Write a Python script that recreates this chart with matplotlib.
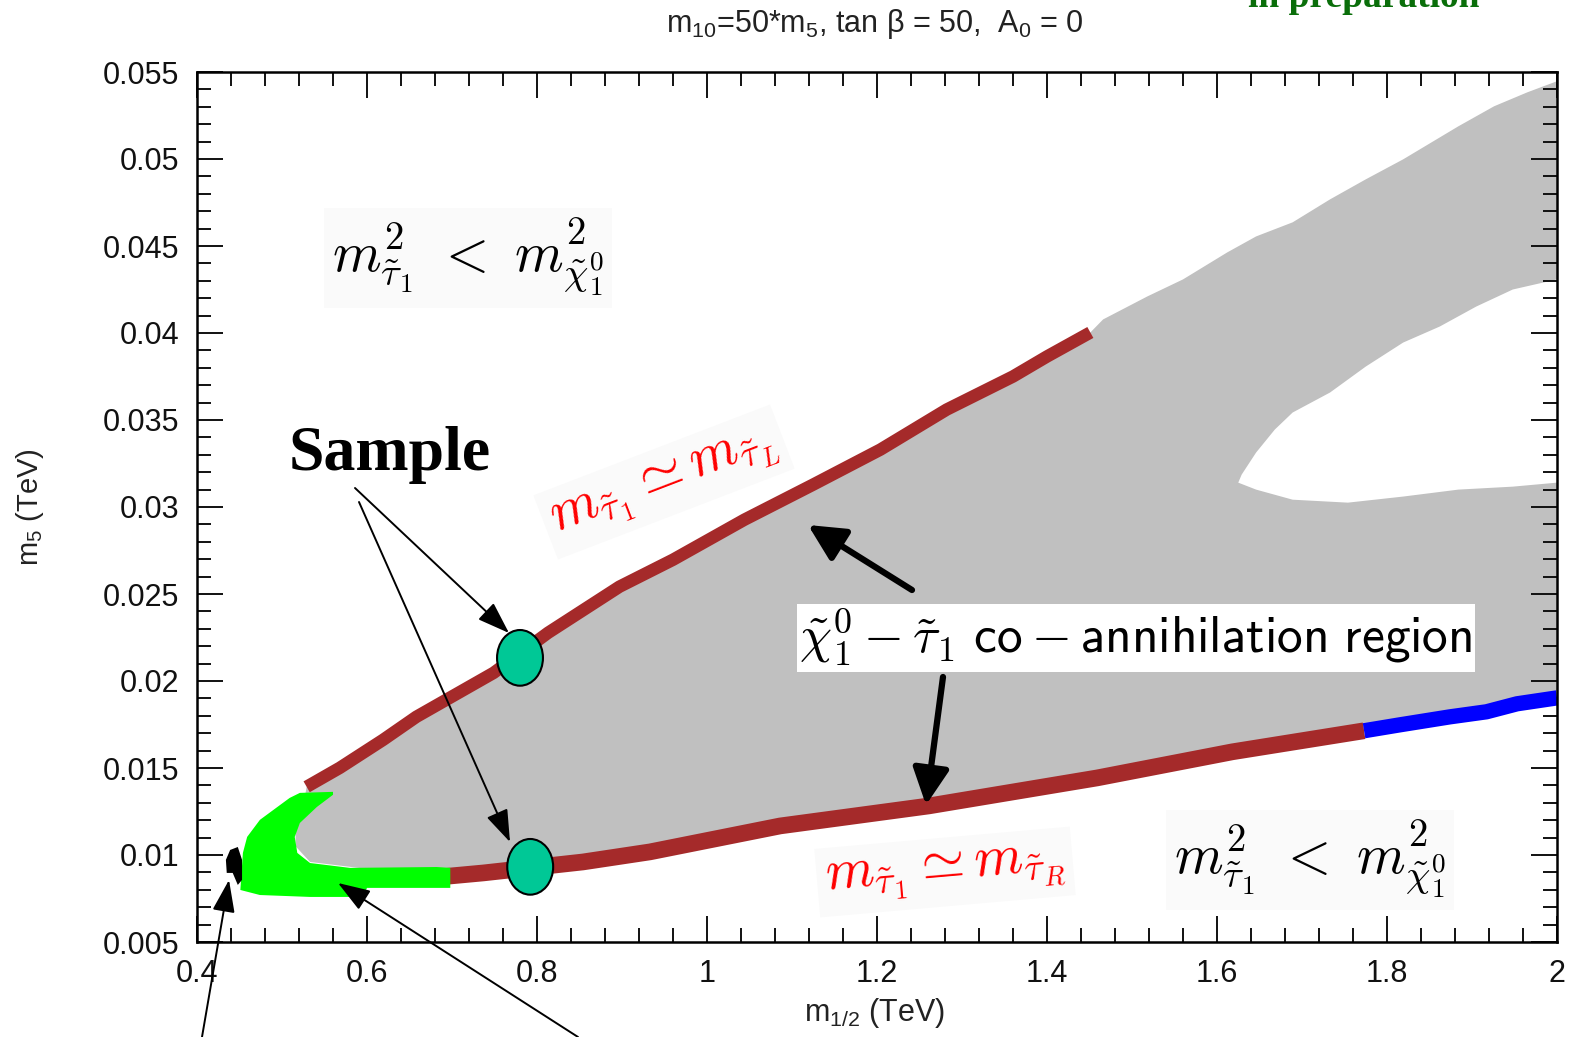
import numpy as np
import matplotlib.pyplot as plt
from matplotlib.patches import Ellipse, FancyArrowPatch
from matplotlib.ticker import MultipleLocator, FuncFormatter

# Data (m_1/2, m_5 in TeV)
# m_stau1 ~ m_stauL boundary (dark red, upper edge)
stauL_m12 = [0.529, 0.568, 0.619, 0.658, 0.749, 0.813, 0.897, 0.960, 1.044,
             1.125, 1.204, 1.282, 1.360, 1.400, 1.451]
stauL_m5 = [0.01392, 0.01501, 0.01662, 0.01794, 0.02047, 0.02277, 0.02542,
            0.02697, 0.02927, 0.03129, 0.03330, 0.03560, 0.03750, 0.03865,
            0.04003]

# upper edge of the allowed (grey) band beyond the red line
top_m12 = [1.466, 1.518, 1.560, 1.612, 1.646, 1.689, 1.733, 1.775, 1.819,
           1.884, 1.926, 1.965, 2.000]
top_m5 = [0.04078, 0.04210, 0.04308, 0.04463, 0.04555, 0.04636, 0.04768,
          0.04883, 0.04998, 0.05188, 0.05303, 0.05383, 0.05447]

# m_stau1 ~ m_stauR boundary (dark red, lower edge)
stauR_m12 = [0.686, 0.737, 0.854, 0.933, 1.086, 1.261, 1.459, 1.618, 1.773]
stauR_m5 = [0.00874, 0.00897, 0.00960, 0.01018, 0.01167, 0.01282, 0.01443,
            0.01593, 0.01714]

# blue part of the lower edge
blue_m12 = [1.773, 1.815, 1.874, 1.917, 1.953, 2.000]
blue_m5 = [0.01714, 0.01748, 0.01794, 0.01823, 0.01869, 0.01903]

# left tip of the grey band (inside the green region)
tip_m12 = [0.600, 0.533, 0.516, 0.516, 0.525]
tip_m5 = [0.0092, 0.0096, 0.0105, 0.0115, 0.0128]

# empty wedge on the right between the two grey branches
hole_m12 = [2.000, 1.948, 1.905, 1.862, 1.819, 1.775, 1.733, 1.689, 1.668,
            1.646, 1.629, 1.625, 1.646, 1.689, 1.754, 1.819, 1.884, 1.948,
            2.000]
hole_m5 = [0.04308, 0.04250, 0.04152, 0.04037, 0.03945, 0.03807, 0.03658,
           0.03543, 0.03445, 0.03313, 0.03186, 0.03140, 0.03100, 0.03042,
           0.03025, 0.03060, 0.03100, 0.03117, 0.03140]

# green region
green_m12 = [0.560, 0.521, 0.509, 0.474, 0.459, 0.454, 0.451, 0.474, 0.533,
             0.595, 0.600, 0.698, 0.698, 0.682, 0.580, 0.533, 0.518, 0.515,
             0.521, 0.541, 0.560]
green_m5 = [0.01363, 0.01357, 0.01328, 0.01202, 0.01104, 0.01012, 0.00799,
            0.00770, 0.00759, 0.00759, 0.00811, 0.00811, 0.00926, 0.00931,
            0.00926, 0.00954, 0.01012, 0.01104, 0.01184, 0.01276, 0.01346]

# black region
black_m12 = [0.434, 0.439, 0.448, 0.453, 0.453, 0.448, 0.442, 0.435]
black_m5 = [0.00972, 0.01029, 0.01046, 0.00972, 0.00857, 0.00828, 0.00897,
            0.00897]

# sample points
sample_m12 = [0.780, 0.792]
sample_m5 = [0.02133, 0.00932]

# %% Plot
plt.rcParams['font.family'] = ['Liberation Sans', 'DejaVu Sans']
plt.rcParams['mathtext.fontset'] = 'custom'
plt.rcParams['mathtext.rm'] = 'Liberation Sans'
plt.rcParams['mathtext.it'] = 'Liberation Sans:italic'
plt.rcParams['mathtext.bf'] = 'Liberation Sans:bold'

W, H = 1574, 1037
fig = plt.figure(figsize=(W / 100, H / 100), dpi=100)
ax = fig.add_axes([197 / W, 1 - 942 / H, 1360 / W, 870 / H])


def px(x, y):
    # figure fraction from a pixel position measured from the top left
    return (x / W, 1 - y / H)


gray_x = stauL_m12 + top_m12 + blue_m12[::-1] + stauR_m12[::-1] + tip_m12
gray_y = stauL_m5 + top_m5 + blue_m5[::-1] + stauR_m5[::-1] + tip_m5
ax.fill(gray_x, gray_y, color='#c0c0c0', lw=0, zorder=1)
ax.fill(hole_m12, hole_m5, color='white', lw=0, zorder=1.5)

ax.plot(stauL_m12, stauL_m5, color='#a52a2a', lw=9, solid_capstyle='butt',
        zorder=2)
ax.plot(stauR_m12, stauR_m5, color='#a52a2a', lw=12, solid_capstyle='butt',
        zorder=2)
ax.plot(blue_m12, blue_m5, color='#0000ff', lw=11, solid_capstyle='butt',
        zorder=2)
ax.fill(green_m12, green_m5, color='#00ff00', lw=0, zorder=3)
ax.fill(black_m12, black_m5, color='black', lw=0, zorder=3)

for sx, sy in zip(sample_m12, sample_m5):
    ax.add_patch(Ellipse((sx, sy), 0.054, 0.0032, facecolor='#00c896',
                         edgecolor='black', lw=1.5, zorder=6))

ax.set_xlim(0.4, 2.0)
ax.set_ylim(0.005, 0.055)
ax.xaxis.set_major_locator(MultipleLocator(0.2))
ax.xaxis.set_minor_locator(MultipleLocator(0.04))
ax.yaxis.set_major_locator(MultipleLocator(0.005))
ax.yaxis.set_minor_locator(MultipleLocator(0.001))
fmt = FuncFormatter(lambda v, p: '%g' % round(v, 4))
ax.xaxis.set_major_formatter(fmt)
ax.yaxis.set_major_formatter(fmt)
ax.tick_params(which='both', direction='in', top=True, right=True,
               width=1.4, colors='#111111')
ax.tick_params(which='major', length=19)
ax.tick_params(which='minor', length=10)
ax.tick_params(axis='x', labelsize=22, pad=12)
ax.tick_params(axis='y', labelsize=22, pad=13)
for s in ax.spines.values():
    s.set_linewidth(1.8)

fig.text(*px(875, 24), r'm$_{10}$=50*m$_5$, tan β = 50,  A$_0$ = 0',
         ha='center', va='center', fontsize=22, color='#222222')
fig.text(*px(875, 1013), r'm$_{1/2}$ (TeV)', ha='center', va='center',
         fontsize=22, color='#222222')
fig.text(*px(30, 507), r'm$_5$ (TeV)', ha='center', va='center',
         fontsize=21, rotation=90, color='#222222')
# cut off by the top edge, as in the source slide
fig.text(*px(1364, 7), 'in preparation', ha='center', va='baseline',
         fontsize=27, fontweight='bold', color='#0a6e0a',
         family=['Liberation Serif'])

faint = dict(facecolor='#fafafa', edgecolor='none', pad=6)
cond = r'$m^2_{\tilde{\tau}_1}\ <\ m^2_{\tilde{\chi}^0_1}$'
fig.text(*px(468, 258), cond, ha='center', va='center', fontsize=40,
         math_fontfamily='cm', bbox=faint, zorder=5)
fig.text(*px(1310, 860), cond, ha='center', va='center', fontsize=40,
         math_fontfamily='cm', bbox=faint, zorder=5)
fig.text(*px(664, 482), r'$m_{\tilde{\tau}_1} \simeq m_{\tilde{\tau}_L}$',
         ha='center', va='center', fontsize=40, color='red', rotation=21,
         rotation_mode='anchor', math_fontfamily='cm', bbox=faint, zorder=5)
fig.text(*px(945, 872), r'$m_{\tilde{\tau}_1} \simeq m_{\tilde{\tau}_R}$',
         ha='center', va='center', fontsize=40, color='red', rotation=5,
         rotation_mode='anchor', math_fontfamily='cm', bbox=faint, zorder=5)
fig.text(*px(1136, 638),
         r'$\tilde{\chi}^0_1 - \tilde{\tau}_1\ \mathsf{co} - '
         r'\mathsf{annihilation\ region}$',
         ha='center', va='center', fontsize=37, math_fontfamily='cm',
         bbox=dict(facecolor='white', edgecolor='none', pad=2), zorder=5)
fig.text(*px(390, 455), 'Sample', ha='center', va='center', fontsize=46,
         fontweight='bold', family=['Liberation Serif'], zorder=5)

thick = dict(arrowstyle='-|>,head_length=1.1,head_width=0.55', lw=4.5,
             color='black', shrinkA=0, shrinkB=0)
thin = dict(arrowstyle='-|>,head_length=1.0,head_width=0.35', lw=1.4,
            color='black', shrinkA=0, shrinkB=0)
arrows = [(px(912, 590), px(808, 525), thick),
          (px(943, 677), px(926, 805), thick),
          (px(355, 488), px(509, 633), thin),
          (px(359, 502), px(510, 842), thin),
          (px(202, 1037), px(229, 880), thin),
          (px(578, 1037), px(338, 883), thin)]
for tail, head, style in arrows:
    fig.add_artist(FancyArrowPatch(tail, head, transform=fig.transFigure,
                                   mutation_scale=20, zorder=7, **style))

plt.savefig('out.png', dpi=100)
